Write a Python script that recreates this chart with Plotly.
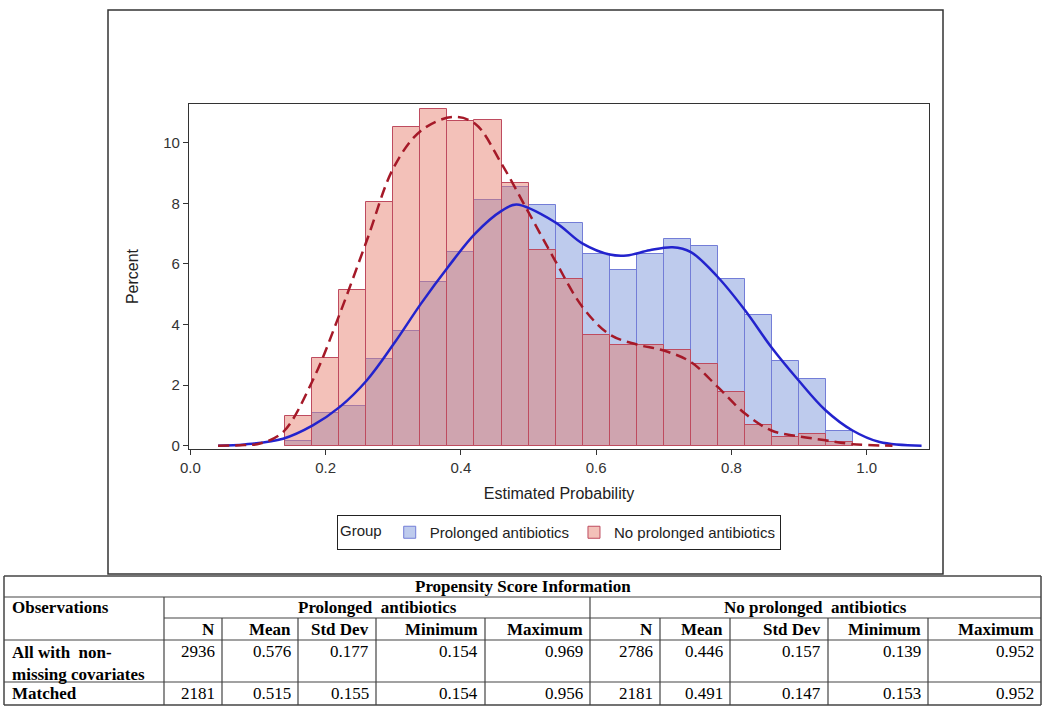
import plotly.graph_objects as go

# ---------------- data ----------------
bin_centers = [0.16, 0.20, 0.24, 0.28, 0.32, 0.36, 0.40, 0.44, 0.48, 0.52, 0.56,
               0.60, 0.64, 0.68, 0.72, 0.76, 0.80, 0.84, 0.88, 0.92, 0.96]
prolonged_pct = [0.15, 1.09, 1.32, 2.87, 3.80, 5.39, 6.39, 8.10, 8.54, 7.93, 7.36,
                 6.34, 5.79, 6.34, 6.83, 6.58, 5.51, 4.30, 2.79, 2.21, 0.50]
noprolonged_pct = [0.97, 2.90, 5.13, 8.04, 10.52, 11.13, 10.72, 10.74, 8.66, 6.45, 5.49,
                   3.64, 3.33, 3.33, 3.17, 2.71, 1.76, 0.69, 0.28, 0.40, 0.12]

# kernel density curves
prolonged_kde_x = [0.041, 0.08, 0.137, 0.181, 0.221, 0.261, 0.301, 0.341, 0.381, 0.421,
                   0.460, 0.482, 0.539, 0.580, 0.620, 0.645, 0.679, 0.713, 0.740, 0.780,
                   0.820, 0.859, 0.899, 0.939, 0.979, 1.019, 1.081]
prolonged_kde_y = [0.0, 0.04, 0.23, 0.67, 1.28, 2.16, 3.37, 4.69, 5.90, 7.00,
                   7.75, 7.96, 7.38, 6.67, 6.31, 6.28, 6.45, 6.55, 6.39, 5.56,
                   4.47, 3.25, 2.16, 1.17, 0.50, 0.12, 0.0]
noprolonged_kde_x = [0.041, 0.08, 0.103, 0.137, 0.181, 0.221, 0.261, 0.301, 0.341, 0.388,
                     0.421, 0.460, 0.500, 0.539, 0.580, 0.620, 0.660, 0.700, 0.740, 0.780,
                     0.820, 0.859, 0.899, 0.939, 0.979, 1.038]
noprolonged_kde_y = [0.0, 0.02, 0.07, 0.45, 2.16, 4.36, 6.78, 9.20, 10.40, 10.85,
                     10.63, 9.31, 7.70, 6.12, 4.57, 3.67, 3.34, 3.14, 2.76, 1.93,
                     1.06, 0.50, 0.31, 0.18, 0.05, 0.0]

x_tick_vals = [0.0, 0.2, 0.4, 0.6, 0.8, 1.0]
y_tick_vals = [0, 2, 4, 6, 8, 10]

group_names = ["Prolonged antibiotics", "No prolonged antibiotics"]

table_title = "Propensity Score Information"
table_obs_header = "Observations"
table_groups = ["Prolonged\u00a0\u00a0antibiotics", "No prolonged\u00a0\u00a0antibiotics"]
stat_headers = ["N", "Mean", "Std Dev", "Minimum", "Maximum"]
row_labels = ["All with\u00a0\u00a0non-<br>missing covariates", "Matched"]
prolonged_all = ["2936", "0.576", "0.177", "0.154", "0.969"]
noprolonged_all = ["2786", "0.446", "0.157", "0.139", "0.952"]
prolonged_matched = ["2181", "0.515", "0.155", "0.154", "0.956"]
noprolonged_matched = ["2181", "0.491", "0.147", "0.153", "0.952"]

# ---------------- layout helpers (pixel -> paper) ----------------
W, H = 1050, 718
PL, PR, PT, PB = 189, 929, 104, 449


def px(x):
    return (x - PL) / (PR - PL)


def py(y):
    return (PB - y) / (PB - PT)


fig = go.Figure()

fig.add_trace(go.Bar(
    x=bin_centers, y=prolonged_pct, width=0.04, name=group_names[0],
    marker=dict(color="rgba(110,140,215,0.45)",
                line=dict(color="rgb(115,125,215)", width=1)),
))
fig.add_trace(go.Bar(
    x=bin_centers, y=noprolonged_pct, width=0.04, name=group_names[1],
    marker=dict(color="rgba(228,118,100,0.45)",
                line=dict(color="rgb(190,75,95)", width=1)),
))
fig.add_trace(go.Scatter(
    x=prolonged_kde_x, y=prolonged_kde_y, mode="lines", showlegend=False,
    line=dict(color="rgb(35,35,205)", width=2.5, shape="spline", smoothing=1.0),
))
fig.add_trace(go.Scatter(
    x=noprolonged_kde_x, y=noprolonged_kde_y, mode="lines", showlegend=False,
    line=dict(color="rgb(165,25,40)", width=2.5, dash="11px,6px", shape="spline", smoothing=1.0),
))

sans = "Liberation Sans, Arial, sans-serif"
axis_font = dict(family=sans, size=15, color="#333")

fig.update_layout(
    width=W, height=H,
    margin=dict(l=PL, r=W - PR, t=PT, b=H - PB, pad=0),
    paper_bgcolor="white", plot_bgcolor="white",
    barmode="overlay", bargap=0,
    font=axis_font,
    xaxis=dict(range=[-0.002, 1.092], tickvals=x_tick_vals, tickformat=".1f",
               showgrid=False, zeroline=False, showline=True, mirror=True,
               linecolor="#333", linewidth=1.3, ticks="outside", ticklen=5,
               tickcolor="#333", tickfont=axis_font,
               title=dict(text="Estimated Probability", font=dict(size=16, family=sans, color="#222"), standoff=12)),
    yaxis=dict(range=[-0.11, 11.28], tickvals=y_tick_vals,
               showgrid=False, zeroline=False, showline=True, mirror=True,
               linecolor="#333", linewidth=1.3, ticks="outside", ticklen=5,
               tickcolor="#333", tickfont=axis_font,
               title=dict(text="Percent", font=dict(size=16, family=sans, color="#222"), standoff=20)),
    legend=dict(orientation="h", x=0.5, xanchor="center", y=py(515), yanchor="top",
                bordercolor="#222", borderwidth=1, bgcolor="white",
                title=dict(text="Group", side="left", font=dict(family=sans, size=15, color="#222")),
                font=dict(family=sans, size=15, color="#222"),
                traceorder="normal", itemwidth=30),
)

shapes = []
# outer frame around the graph
shapes.append(dict(type="rect", xref="paper", yref="paper",
                   x0=px(108), x1=px(943), y0=py(574), y1=py(10),
                   line=dict(color="#333", width=1.5)))

# ---------------- table ----------------
TL, TR = 4, 1041
T0, T1, T2, T3, T4, T5 = 576, 597, 618, 640, 682, 705
col_edges = [TL, 164, 222, 298, 376, 485, 590, 660, 730, 828, 928, TR]
line_c = "#444"


def hline(x0, x1, y, w=1.2):
    shapes.append(dict(type="line", xref="paper", yref="paper",
                       x0=px(x0), x1=px(x1), y0=py(y), y1=py(y),
                       line=dict(color=line_c, width=w)))


def vline(x, y0, y1, w=1.2):
    shapes.append(dict(type="line", xref="paper", yref="paper",
                       x0=px(x), x1=px(x), y0=py(y0), y1=py(y1),
                       line=dict(color=line_c, width=w)))


hline(TL, TR, T0, 1.5)
hline(TL, TR, T1)
hline(col_edges[1], TR, T2)
hline(TL, TR, T3)
hline(TL, TR, T4)
hline(TL, TR, T5, 1.5)
vline(TL, T0, T5, 1.5)
vline(TR, T0, T5, 1.5)
vline(col_edges[1], T1, T5)
vline(col_edges[6], T1, T5)
for ci in [2, 3, 4, 5, 7, 8, 9, 10]:
    vline(col_edges[ci], T2, T5)

fig.update_layout(shapes=shapes)

serif = "Liberation Serif, Times New Roman, serif"
ann = []


def text(x, y, s, anchor="center", bold=False, yanchor="middle", size=17):
    ann.append(dict(xref="paper", yref="paper", x=px(x), y=py(y), text=s,
                    showarrow=False, xanchor=anchor, yanchor=yanchor,
                    align=anchor if anchor in ("left", "right") else "center",
                    font=dict(family=serif, size=size, color="black",
                              weight="bold" if bold else "normal")))


text((TL + TR) / 2, (T0 + T1) / 2, table_title, bold=True)
text(TL + 6, (T1 + T2) / 2, table_obs_header, anchor="left", bold=True)
text((col_edges[1] + col_edges[6]) / 2, (T1 + T2) / 2, table_groups[0], bold=True)
text((col_edges[6] + TR) / 2, (T1 + T2) / 2, table_groups[1], bold=True)
for k, h in enumerate(stat_headers):
    text(col_edges[2 + k] - 5, (T2 + T3) / 2, h, anchor="right", bold=True)
    text(col_edges[7 + k] - 5, (T2 + T3) / 2, h, anchor="right", bold=True)

text(TL + 6, T3 + 1, row_labels[0], anchor="left", bold=True, yanchor="top")
text(TL + 6, (T4 + T5) / 2, row_labels[1], anchor="left", bold=True)
row1_y = T3 + 11
row2_y = (T4 + T5) / 2
for k in range(5):
    text(col_edges[2 + k] - 5, row1_y, prolonged_all[k], anchor="right")
    text(col_edges[7 + k] - 5, row1_y, noprolonged_all[k], anchor="right")
    text(col_edges[2 + k] - 5, row2_y, prolonged_matched[k], anchor="right")
    text(col_edges[7 + k] - 5, row2_y, noprolonged_matched[k], anchor="right")

fig.update_layout(annotations=ann)

fig.write_html("out.html",
               config={"displayModeBar": False},
               post_script="document.body.style.margin='0';document.body.style.overflow='hidden';")
